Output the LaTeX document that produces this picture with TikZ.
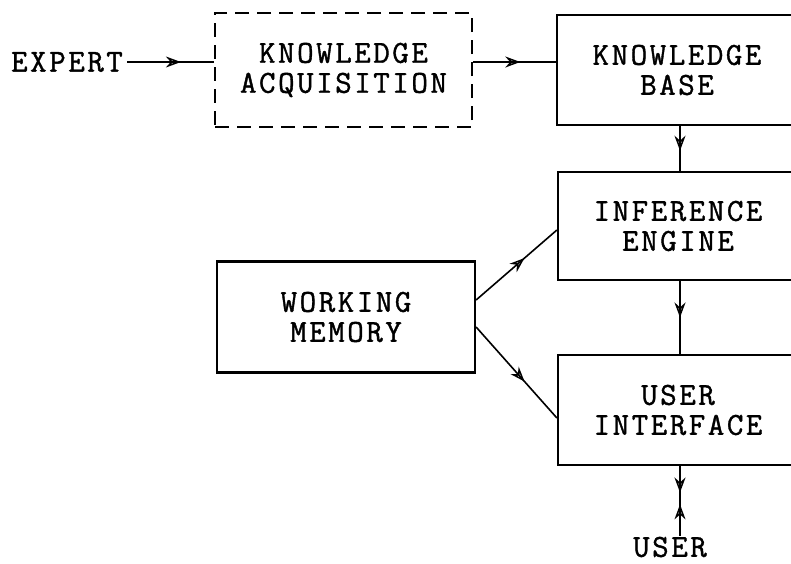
\documentclass[tikz,border=0pt]{standalone}
\usepackage{fontspec}
\setmonofont{Latin Modern Mono}[LetterSpace=8, FakeBold=1.2]
\usetikzlibrary{arrows.meta,decorations.markings,calc}
\tikzset{
  txt/.style={font=\ttfamily\fontsize{32}{30}\selectfont, align=center, inner sep=4pt},
  blk/.style={txt, draw, line width=2.2pt, inner sep=0pt},
  dblk/.style={blk, dash pattern=on 14pt off 8pt},
  conn/.style={line width=1.6pt},
  midarrow/.style={postaction={decorate,decoration={markings,
      mark=at position #1 with {\arrow{Stealth[length=15pt,width=11pt,open,line width=1.5pt]}}}}},
  backarrow/.style={postaction={decorate,decoration={markings,
      mark=at position #1 with {\arrowreversed{Stealth[length=15pt,width=11pt,open,line width=1.5pt]}}}}}
}
\begin{document}
\begin{tikzpicture}[x=1pt,y=-1pt]
\useasboundingbox (0,0) rectangle (791,563);
\clip (0,0) rectangle (791,563);
\fill[white] (0,0) rectangle (791,563);
% nodes
\node[txt] (EX) at (67,62) {EXPERT};
\node[dblk, minimum width=257pt, minimum height=114pt] (KA) at (343.5,70) {KNOWLEDGE\\ACQUISITION};
\node[blk, minimum width=240pt, minimum height=110pt] (KB) at (677,70) {KNOWLEDGE\\BASE};
\node[blk, minimum width=240pt, minimum height=108pt] (IE) at (678,226) {INFERENCE\\ENGINE};
\node[blk, minimum width=240pt, minimum height=110pt] (UI) at (678,410) {USER\\INTERFACE};
\node[blk, minimum width=258pt, minimum height=111pt] (WM) at (346,317) {WORKING\\MEMORY};
\node[txt, inner sep=1pt] (US) at (670,547) {USER};
\coordinate (vx) at (680,0);
% connectors
\draw[conn, midarrow=0.62] (EX.east) -- (EX.east -| KA.west);
\draw[conn, midarrow=0.57] (KA.east |- EX.east) -- (KB.west |- EX.east);
\draw[conn, midarrow=0.55] (KB.south -| vx) -- (IE.north -| vx);
\draw[conn, midarrow=0.5] (IE.south -| vx) -- (UI.north -| vx);
\draw[conn, midarrow=0.6] ($(WM.east)+(0,-17)$) -- ($(IE.west)+(0,4)$);
\draw[conn, midarrow=0.6] ($(WM.east)+(0,10)$) -- ($(UI.west)+(0,8)$);
\draw[conn, midarrow=0.38, backarrow=0.55] (UI.south -| vx) -- (US.north -| vx);
\end{tikzpicture}
\end{document}
